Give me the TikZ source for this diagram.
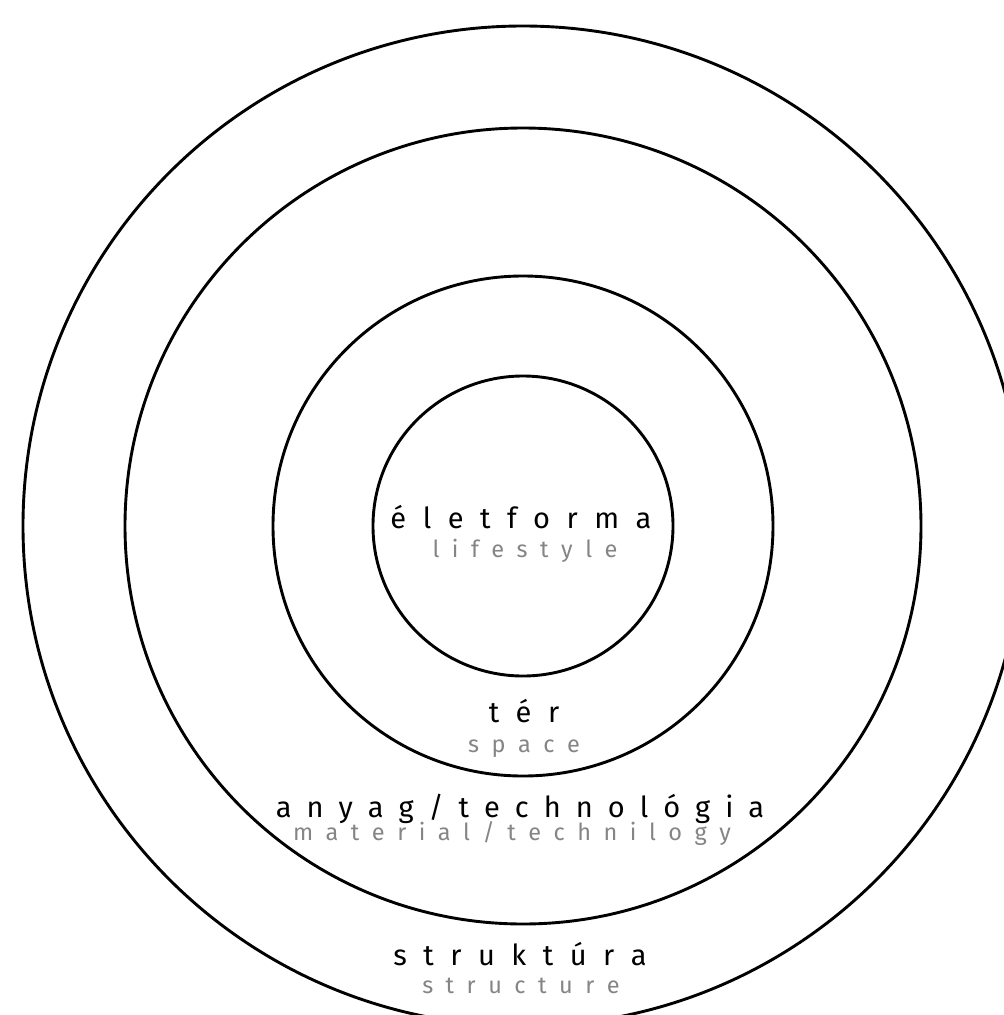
\documentclass[tikz,border=0pt]{standalone}
\usepackage{fontspec}
\setmainfont{Fira Sans}
\definecolor{subgray}{HTML}{858585}
\makeatletter
\def\spr#1#2{\def\spr@gap{#1}\spr@a#2\@nil}
\def\spr@a#1#2\@nil{#1\ifx\relax#2\relax\else\hspace{\spr@gap}\spr@a#2\@nil\fi}
\makeatother
\tikzset{
  ring/.style={draw=black, line width=2.9pt},
  mainlbl/.style={anchor=base, inner sep=0pt, text=black, font=\fontsize{29}{32}\selectfont},
  sublbl/.style={anchor=base, inner sep=0pt, text=subgray, font=\fontsize{23.5}{26}\selectfont},
}
\begin{document}
\begin{tikzpicture}[x=1pt,y=-1pt]
\useasboundingbox (0,0) rectangle (1004,1015);
\clip (0,0) rectangle (1004,1015);
\coordinate (c) at (523,526);
\draw[ring] (c) circle[radius=500];
\draw[ring] (c) circle[radius=398];
\draw[ring] (c) circle[radius=250];
\draw[ring] (c) circle[radius=150];
\node[mainlbl] (n1) at (521,528) {\spr{16.5pt}{életforma}};
\node[sublbl] (s1) at (525,557) {\spr{12.5pt}{lifestyle}};
\node[mainlbl] (n2) at (524,722) {\spr{16.5pt}{tér}};
\node[sublbl] (s2) at (524,752) {\spr{12.5pt}{space}};
\node[mainlbl] (n3) at (520,817) {\spr{15pt}{anyag/technológia}};
\node[sublbl] (s3) at (512,840) {\spr{12.5pt}{material/technilogy}};
\node[mainlbl] (n4) at (520,965) {\spr{16.5pt}{struktúra}};
\node[sublbl] (s4) at (521,993) {\spr{12.5pt}{structure}};
\end{tikzpicture}
\end{document}
